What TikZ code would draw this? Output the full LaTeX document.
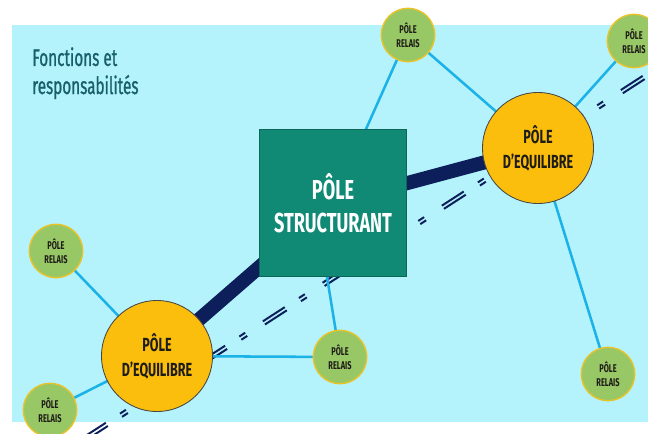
\documentclass[tikz,border=0pt]{standalone}
\usepackage{fontspec}
\setmainfont{Fira Sans}[FakeStretch=0.66]
\newfontfamily\titrefont{Fira Sans}[FakeStretch=0.64,FakeBold=0.8]
\usetikzlibrary{backgrounds}

\definecolor{fond}{RGB}{180,242,252}
\definecolor{vertfonce}{RGB}{16,138,116}
\definecolor{jaune}{RGB}{251,190,12}
\definecolor{vertclair}{RGB}{152,199,102}
\definecolor{bordjaune}{RGB}{232,196,42}
\definecolor{bleu}{RGB}{27,178,232}
\definecolor{marine}{RGB}{12,31,90}
\definecolor{titre}{RGB}{23,96,106}
\definecolor{noir}{RGB}{30,28,24}
\definecolor{gris}{RGB}{70,70,70}

\begin{document}
\begin{tikzpicture}[x=0.025cm,y=-0.025cm,
  relais/.style={circle,draw=bordjaune,line width=1pt,fill=vertclair,minimum size=38pt,inner sep=0pt,align=center,text=noir,font=\bfseries\fontsize{8}{10}\selectfont},
  equilibre/.style={circle,draw=gris,line width=0.6pt,fill=jaune,minimum size=79pt,inner sep=0pt,align=center,text=noir,font=\bfseries\fontsize{13.5}{17.7}\selectfont},
  structurant/.style={rectangle,draw=vertfonce!75!black,line width=0.6pt,fill=vertfonce,minimum size=104pt,align=center,text=white,font=\bfseries\fontsize{19.5}{23.4}\selectfont},
  lien/.style={draw=bleu,line width=1.8pt},
  axe/.style={draw=marine,line width=10pt}]

\useasboundingbox (0,0) rectangle (648,433);

% Titre
\node[anchor=north west,align=left,inner sep=0pt,text=titre,font=\titrefont\fontsize{17}{20}\selectfont] (titre) at (32,47) {Fonctions et\\responsabilités};

% Poles
\node[structurant] (struct) at (333,203) {PÔLE\\STRUCTURANT};
\node[equilibre] (eqd) at (538,148) {PÔLE\\D’EQUILIBRE};
\node[equilibre] (eqg) at (157,356) {PÔLE\\D’EQUILIBRE};

\node[relais] (relaish) at (408,35) {PÔLE\\RELAIS};
\node[relais] (relaishd) at (634,41) {PÔLE\\RELAIS};
\node[relais] (relaisg) at (56,251) {PÔLE\\RELAIS};
\node[relais] (relaisbg) at (50,410) {PÔLE\\RELAIS};
\node[relais] (relaism) at (340,357) {PÔLE\\RELAIS};
\node[relais] (relaisbd) at (608,374) {PÔLE\\RELAIS};

\begin{pgfonlayer}{background}
% Fond
\fill[fond] (12,25) rectangle (648,422);

% Ligne double
\foreach \o in {-1.9,1.9}
  \draw[marine,line width=1.4pt,dash pattern=on 18.5pt off 12pt on 5pt off 15pt,shift={(0.543*\o,0.840*\o)}] (85,438.5) -- (670,60.5);

% Axe
\draw[axe] (eqg.center) -- (struct.center);
\draw[axe] (struct.center) -- (eqd.center);

% Liens
\draw[lien] (relaish.center) -- (struct.center);
\draw[lien] (relaish.center) -- (eqd.center);
\draw[lien] (relaishd.center) -- (eqd.center);
\draw[lien] (eqd.center) -- (relaisbd.center);
\draw[lien] (relaisg.center) -- (eqg.center);
\draw[lien] (eqg.center) -- (relaisbg.center);
\draw[lien] (eqg.center) -- (relaism.center);
\draw[lien] ([xshift=-4.3pt]struct.south) -- (relaism.center);
\end{pgfonlayer}
\end{tikzpicture}
\end{document}
